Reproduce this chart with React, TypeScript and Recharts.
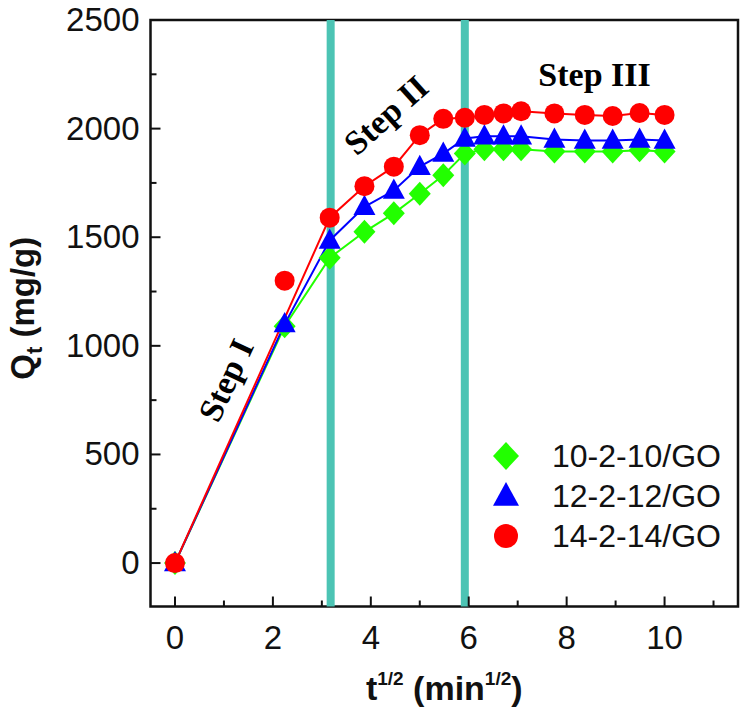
import React from "react";
import {
  LineChart,
  Line,
  XAxis,
  YAxis,
  ReferenceLine,
  ReferenceArea,
  ReferenceDot,
  Legend
} from "recharts";

// t^(1/2) sampling points, min^(1/2)
const T_HALF = [0, 2.24, 3.16, 3.87, 4.47, 5, 5.48, 5.92, 6.32, 6.71, 7.07, 7.75, 8.37, 8.94, 9.49, 10];

// adsorption capacity Qt (mg/g)
const Q_10 = [0, 1090, 1405, 1525, 1610, 1700, 1785, 1885, 1905, 1905, 1905, 1895, 1895, 1895, 1900, 1895];
const Q_12 = [0, 1100, 1485, 1640, 1715, 1825, 1885, 1955, 1965, 1965, 1965, 1950, 1945, 1945, 1950, 1945];
const Q_14 = [0, 1300, 1590, 1735, 1825, 1970, 2045, 2050, 2063, 2070, 2080, 2070, 2063, 2058, 2072, 2063];

const SERIES_NAMES = ["10-2-10/GO", "12-2-12/GO", "14-2-14/GO"];

const X_TICKS = [0, 1, 2, 3, 4, 5, 6, 7, 8, 9, 10, 11];
const Y_TICKS = [0, 250, 500, 750, 1000, 1250, 1500, 1750, 2000, 2250, 2500];

// stage boundaries
const BOUNDARIES = [3.18, 5.92];

const STEP_LABELS = [
  { text: "Step I", x: 1.04, y: 842, angle: -65 },
  { text: "Step II", x: 4.31, y: 2063, angle: -42 },
  { text: "Step III", x: 8.57, y: 2247, angle: 0 }
];

// red line skips the outlier at the 2nd point
const data = T_HALF.map((t, i) => ({
  t,
  q10: Q_10[i],
  q12: Q_12[i],
  q14: Q_14[i],
  q14line: i === 1 ? null : Q_14[i]
}));

const SANS = "'Liberation Sans', Arial, sans-serif";
const SERIF = "'Liberation Serif', 'Times New Roman', serif";
const TEAL = "#4CC4B4";
const GREEN = "#22FF00";
const BLUE = "#0000FF";
const RED = "#FF0000";

type Shape = "diamond" | "triangle" | "circle";

function marker(shape: Shape, cx: number, cy: number, color: string, s = 11, key?: string) {
  if (shape === "circle") return <circle key={key} cx={cx} cy={cy} r={s - 1} fill={color} />;
  if (shape === "triangle") {
    const pts = `${cx},${cy - s - 1} ${cx - s},${cy + s * 0.75} ${cx + s},${cy + s * 0.75}`;
    return <polygon key={key} points={pts} fill={color} />;
  }
  const pts = `${cx},${cy - s - 1} ${cx + s},${cy} ${cx},${cy + s + 1} ${cx - s},${cy}`;
  return <polygon key={key} points={pts} fill={color} />;
}

const dotOf = (shape: Shape, color: string) => (p: any) => {
  if (p.cx == null || p.cy == null || p.value == null) return <g key={`n-${p.index}`} />;
  return marker(shape, p.cx, p.cy, color, 11, `${shape}-${p.index}`);
};

const XTick = (p: any) => {
  const v = p.payload.value;
  const major = v % 2 === 0 && v <= 10;
  return (
    <g>
      <line x1={p.x} x2={p.x} y1={p.y} y2={p.y - (major ? 10 : 6)} stroke="#111" strokeWidth={2} />
      {major && (
        <text x={p.x} y={p.y + 42} textAnchor="middle" fontSize={33} fontFamily={SANS} fill="#111">
          {v}
        </text>
      )}
    </g>
  );
};

const YTick = (p: any) => {
  const v = p.payload.value;
  const major = v % 500 === 0;
  return (
    <g>
      <line x1={p.x} x2={p.x + (major ? 10 : 6)} y1={p.y} y2={p.y} stroke="#111" strokeWidth={2} />
      {major && (
        <text x={p.x - 11} y={p.y + 11} textAnchor="end" fontSize={33} fontFamily={SANS} fill="#111">
          {v}
        </text>
      )}
    </g>
  );
};

const XTitle = (p: any) => {
  const vb = p.viewBox;
  const cx = vb.x + vb.width / 2;
  const y = vb.y + 93;
  return (
    <text x={cx} y={y} textAnchor="middle" fontSize={34} fontWeight="bold" fontFamily={SANS} fill="#111">
      t
      <tspan fontSize={19} dy={-15}>1/2</tspan>
      <tspan fontSize={34} dy={15}> (min</tspan>
      <tspan fontSize={19} dy={-15}>1/2</tspan>
      <tspan fontSize={34} dy={15}>)</tspan>
    </text>
  );
};

const YTitle = (p: any) => {
  const vb = p.viewBox;
  const x = 34;
  const y = vb.y + vb.height / 2 - 5;
  return (
    <text
      x={x}
      y={y}
      transform={`rotate(-90 ${x} ${y})`}
      textAnchor="middle"
      fontSize={33}
      fontWeight="bold"
      fontFamily={SANS}
      fill="#111"
    >
      Q
      <tspan fontSize={22} dy={8}>t</tspan>
      <tspan fontSize={33} dy={-8}> (mg/g)</tspan>
    </text>
  );
};

const stepShape = (text: string, angle: number) => (p: any) => (
  <text
    x={p.cx}
    y={p.cy}
    transform={`rotate(${angle} ${p.cx} ${p.cy})`}
    textAnchor="middle"
    dominantBaseline="central"
    fontSize={34}
    fontWeight="bold"
    fontFamily={SERIF}
    fill="#000"
  >
    {text}
  </text>
);

const LEGEND_SHAPES: Shape[] = ["diamond", "triangle", "circle"];
const LEGEND_COLORS = [GREEN, BLUE, RED];

const renderLegend = () => (
  <svg width={262} height={130}>
    {SERIES_NAMES.map((name, i) => (
      <g key={name}>
        {marker(LEGEND_SHAPES[i], 28, 26 + i * 40, LEGEND_COLORS[i], 13)}
        <text x={74} y={26 + i * 40 + 11} fontSize={32} fontFamily={SANS} fill="#111">
          {name}
        </text>
      </g>
    ))}
  </svg>
);

export default function App() {
  return (
    <div style={{ position: "absolute", left: 0, top: 0, width: 745, height: 721, background: "#fff" }}>
      <LineChart
        width={745}
        height={721}
        data={data}
        margin={{ top: 20, right: 7, bottom: 54.5, left: 50.5 }}
      >
        <XAxis
          dataKey="t"
          type="number"
          domain={[-0.5, 11.5]}
          ticks={X_TICKS}
          interval={0}
          height={60}
          axisLine={false}
          tickLine={false}
          tickSize={0}
          tickMargin={0}
          tick={<XTick />}
          label={{ content: XTitle }}
        />
        <YAxis
          type="number"
          domain={[-200, 2500]}
          ticks={Y_TICKS}
          interval={0}
          width={100}
          axisLine={false}
          tickLine={false}
          tickSize={0}
          tickMargin={0}
          tick={<YTick />}
          label={{ content: YTitle }}
        />
        <Legend
          layout="horizontal"
          verticalAlign="middle"
          align="center"
          content={renderLegend}
          wrapperStyle={{ position: "absolute", left: 478, top: 430, width: 262, height: 130 }}
        />
        {BOUNDARIES.map((b) => (
          <ReferenceLine key={b} x={b} stroke={TEAL} strokeWidth={8} />
        ))}
        <Line
          dataKey="q10"
          name={SERIES_NAMES[0]}
          stroke={GREEN}
          strokeWidth={2}
          dot={dotOf("diamond", GREEN)}
          activeDot={false}
          isAnimationActive={false}
        />
        <Line
          dataKey="q12"
          name={SERIES_NAMES[1]}
          stroke={BLUE}
          strokeWidth={2}
          dot={dotOf("triangle", BLUE)}
          activeDot={false}
          isAnimationActive={false}
        />
        <Line
          dataKey="q14line"
          legendType="none"
          stroke={RED}
          strokeWidth={2}
          connectNulls
          dot={false}
          activeDot={false}
          isAnimationActive={false}
        />
        <Line
          dataKey="q14"
          name={SERIES_NAMES[2]}
          stroke="none"
          dot={dotOf("circle", RED)}
          activeDot={false}
          isAnimationActive={false}
        />
        {STEP_LABELS.map((s) => (
          <ReferenceDot key={s.text} x={s.x} y={s.y} r={0} shape={stepShape(s.text, s.angle)} />
        ))}
        <ReferenceArea
          x1={-0.5}
          x2={11.5}
          y1={-200}
          y2={2500}
          fill="none"
          fillOpacity={0}
          stroke="#111"
          strokeWidth={2.5}
        />
      </LineChart>
    </div>
  );
}
